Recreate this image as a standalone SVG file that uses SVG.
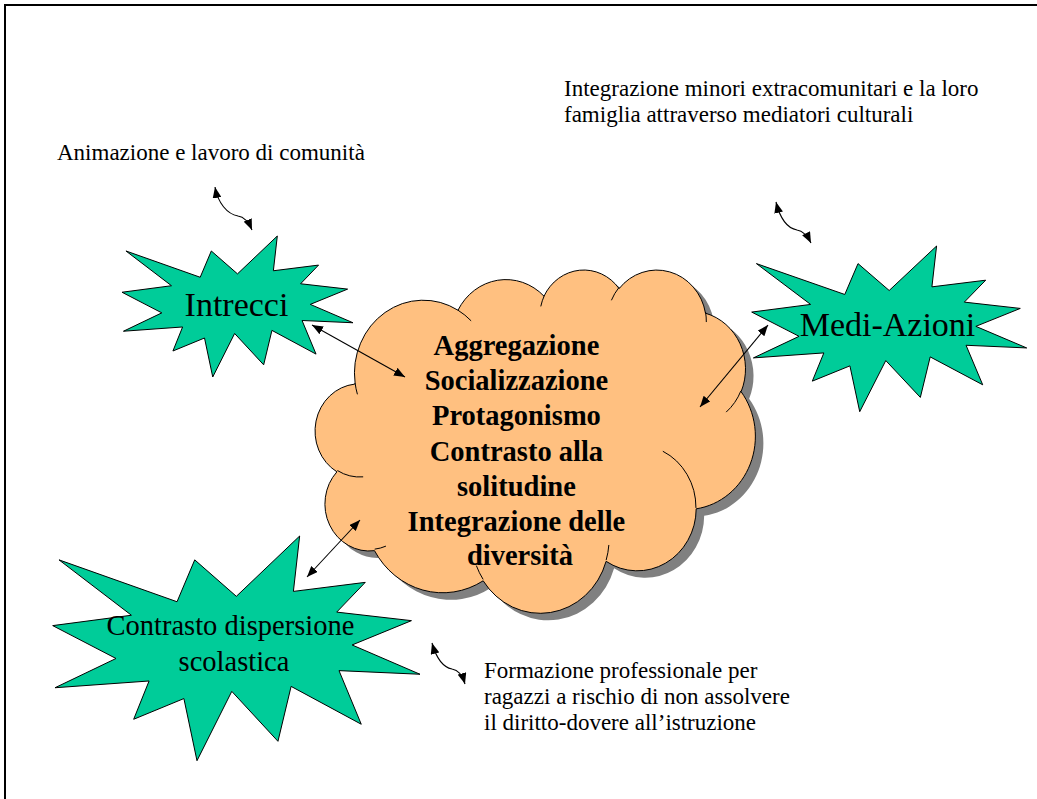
<svg xmlns="http://www.w3.org/2000/svg" xmlns:xlink="http://www.w3.org/1999/xlink" width="1037" height="799" viewBox="0 0 1037 799">
  <style>
    .star { fill: #00CC99; stroke: #000; stroke-width: 1; }
    .cloud { fill: #FFC080; stroke: #000; stroke-width: 1; }
    .cloud-shadow { fill: #808080; stroke: none; }
    .cloud-fold { fill: none; stroke: #000; stroke-width: 1; vector-effect: non-scaling-stroke; }
    .star-label { font-family: "Liberation Serif", "Times New Roman", serif; fill: #000; text-anchor: middle; }
    .core { font-family: "Liberation Serif", "Times New Roman", serif; font-weight: bold; font-size: 28.5px; fill: #000; text-anchor: middle; }
    .note { font-family: "Liberation Serif", "Times New Roman", serif; font-size: 23px; fill: #000; }
    .link { fill: none; stroke: #000; stroke-width: 1.1; marker-start: url(#head); marker-end: url(#head); }
    .frame { fill: none; stroke: #000; stroke-width: 2; }
  </style>
  <defs>
    <marker id="head" viewBox="0 0 10 8" refX="10" refY="4" markerWidth="11" markerHeight="9" markerUnits="userSpaceOnUse" orient="auto-start-reverse">
      <path d="M0,0 L10,4 L0,8 Z" fill="#000"/>
    </marker>
    <!-- explosion outline, 21600 x 21600 unit box -->
    <path id="burst" vector-effect="non-scaling-stroke" d="M10800 5800 L14522 0 L14155 5325 L18380 4457 L16702 7315 L21097 8137 L17607 10475 L21600 13290 L16837 12942 L18145 18095 L14020 14457 L13247 19737 L10532 14935 L8485 21600 L7715 15627 L4762 17617 L5667 13937 L135 14587 L3722 11775 L0 8615 L4627 7617 L370 2295 L7312 6320 L8352 2295 Z"/>
    <!-- cloud outline, 43200 x 43200 unit box -->
    <path id="cloud-outline" vector-effect="non-scaling-stroke" d="M3900 14370 A6753 9190 0 0 1 14005.7 5202.4 A5333 7267 0 0 1 22456.9 3432.5 A4365 5945 0 0 1 29833.7 2480.8 A4857 6595 0 0 1 38319.1 5575.6 A5333 7273 0 0 1 41819.4 15459.2 A6775 9220 0 0 1 37405.4 30201.6 A5785 7867 0 0 1 28556.7 36811.5 A6752 9215 0 0 1 16481.1 39262 A7720 10543 0 0 1 5804.4 35467.8 A4360 5918 0 0 1 2113.5 25545.8 A4345 5945 0 0 1 3863 14502 Z"/>
  </defs>

  <rect width="1037" height="799" fill="#fff"/>
  <path class="frame" d="M5 799 L5 5 L1037 5"/>

  <!-- central cloud -->
  <g id="cloud">
    <g transform="translate(323.4 275.9) scale(0.010180 0.007944)">
      <use xlink:href="#cloud-outline" class="cloud-shadow"/>
    </g>
    <g transform="translate(315.4 268.9) scale(0.010180 0.007944)">
      <use xlink:href="#cloud-outline" class="cloud"/>
      <path class="cloud-fold" d="M4693 26177 A4345 5945 0 0 1 2160.4 25380 M6928 34899 A4360 5918 0 0 1 5819.5 35280.4 M16478 39090 A6752 9215 0 0 1 15810.3 37350.3 M28827 34751 A6752 9215 0 0 1 28560.4 36660.1 M34129 22954 A5785 7867 0 0 1 37380.9 30089.9 M41798 15354 A5333 7273 0 0 1 40350.3 18029.5 M38324 5426 A4857 6595 0 0 1 38400.4 6689.4 M29078 3952 A4857 6595 0 0 1 29819.5 2341.3 M22141 4720 A4365 5945 0 0 1 22500.2 3329.9 M14000 5192 A6753 9190 0 0 1 15298.9 6539.7 M4127 15789 A6753 9190 0 0 1 3900 14369.8"/>
    </g>
    <text class="core">
      <tspan x="520" y="355">Aggregazione</tspan>
      <tspan x="520" y="390">Socializzazione</tspan>
      <tspan x="520" y="425">Protagonismo</tspan>
      <tspan x="520" y="460.5">Contrasto alla</tspan>
      <tspan x="520" y="496">solitudine</tspan>
      <tspan x="520" y="530.5">Integrazione delle</tspan>
      <tspan x="520" y="565">diversità</tspan>
    </text>
  </g>

  <!-- bursts -->
  <g id="intrecci">
    <use xlink:href="#burst" class="star" transform="translate(122 236) scale(0.010694 0.006528)"/>
    <text class="star-label" x="236.5" y="315.5" font-size="34">Intrecci</text>
  </g>

  <g id="medi-azioni">
    <use xlink:href="#burst" class="star" transform="translate(751.7 246) scale(0.012731 0.007671)"/>
    <text class="star-label" x="887.5" y="336" font-size="34">Medi-Azioni</text>
  </g>

  <g id="dispersione">
    <use xlink:href="#burst" class="star" transform="translate(52.7 536) scale(0.017005 0.010403)"/>
    <text class="star-label" font-size="28.5">
      <tspan x="234" y="635">Contrasto dispersione</tspan>
      <tspan x="234" y="670.5">scolastica</tspan>
    </text>
  </g>

  <!-- notes -->
  <g id="note-animazione">
    <text class="note" x="57" y="160">Animazione e lavoro di comunità</text>
  </g>
  <g id="note-integrazione">
    <text class="note">
      <tspan x="564" y="96">Integrazione minori extracomunitari e la loro</tspan>
      <tspan x="564" y="122">famiglia attraverso mediatori culturali</tspan>
    </text>
  </g>
  <g id="note-formazione">
    <text class="note">
      <tspan x="484" y="678">Formazione professionale per</tspan>
      <tspan x="484" y="704">ragazzi a rischio di non assolvere</tspan>
      <tspan x="484" y="730">il diritto-dovere all’istruzione</tspan>
    </text>
  </g>

  <!-- connectors -->
  <g id="connectors">
    <line class="link" x1="312" y1="325" x2="405" y2="377"/>
    <line class="link" x1="768" y1="325" x2="700" y2="407"/>
    <line class="link" x1="360" y1="520" x2="307" y2="577"/>
    <path class="link" d="M215 187 C218 203 227 214 238 216 C245 217 249 223 252 230"/>
    <path class="link" d="M776 202 C780 218 786 228 797 230 C804 231 808 237 811 243"/>
    <path class="link" d="M432 643 C436 657 442 667 452 669 C459 670 463 677 465 684"/>
  </g>
</svg>
